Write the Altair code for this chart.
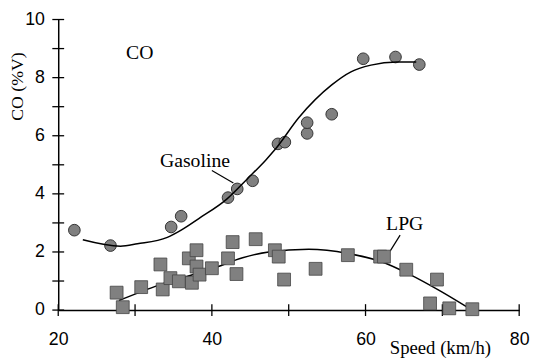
import altair as alt
import pandas as pd

# ---- data ----
gas_speed = [22.1, 26.8, 34.7, 36.0, 42.1, 43.3, 45.3, 48.6, 49.5, 52.4, 52.4, 55.6, 59.7, 63.9, 67.0]
gas_co = [2.75, 2.22, 2.86, 3.23, 3.87, 4.17, 4.45, 5.72, 5.78, 6.08, 6.45, 6.74, 8.65, 8.71, 8.45]

lpg_speed = [27.6, 28.4, 30.8, 33.3, 33.6, 34.6, 35.7, 37.0, 37.4, 38.0, 38.0, 38.4, 40.0,
             42.1, 42.7, 43.2, 45.7, 48.2, 48.7, 49.4, 53.5, 57.7, 61.9, 62.4, 65.3, 69.3,
             68.4, 70.9, 73.9]
lpg_co = [0.60, 0.10, 0.79, 1.57, 0.71, 1.10, 0.99, 1.78, 0.94, 2.06, 1.50, 1.22, 1.44,
          1.78, 2.34, 1.24, 2.44, 2.06, 1.84, 1.05, 1.42, 1.89, 1.84, 1.84, 1.39, 1.05,
          0.23, 0.06, 0.03]

gas_fit_speed = [23.2, 28.1, 30.3, 34.2, 36.0, 38.3, 41.9, 44.7, 47.0, 48.3, 51.3, 55.6, 58.1, 60.7, 64.1, 66.6]
gas_fit_co = [2.42, 2.20, 2.28, 2.50, 2.75, 3.15, 3.81, 4.54, 5.16, 5.55, 6.62, 7.75, 8.20, 8.43, 8.54, 8.54]

lpg_fit_speed = [27.9, 33.1, 40.2, 44.0, 47.4, 52.6, 57.7, 62.0, 65.8, 69.7, 73.3]
lpg_fit_co = [0.33, 0.86, 1.44, 1.80, 2.00, 2.09, 1.95, 1.67, 1.22, 0.66, 0.09]

x_major = [20, 40, 60, 80]
x_minor = [30, 50, 70]
y_major = [0, 2, 4, 6, 8, 10]
y_minor = [1, 3, 5, 7, 9]

x_title = "Speed (km/h)"
y_title = "CO (%V)"

note_text = ["CO", "Gasoline", "LPG"]
note_x = [30.6, 37.8, 65.1]
note_y = [8.86, 5.12, 2.96]

leader_x = [40.0, 64.5]
leader_y = [4.80, 2.58]
leader_x2 = [42.8, 63.2]
leader_y2 = [4.37, 2.03]

# ---- chart ----
W, H = 468, 295
SERIF = "Liberation Serif"
SANS = "Liberation Sans"

xs = alt.Scale(domain=[20, 80], nice=False, zero=False)
ys = alt.Scale(domain=[0, 10], nice=False, zero=False)

x_axis = alt.Axis(values=x_major, tickSize=0, ticks=False, labelPadding=21, grid=False, title=None)
y_axis = alt.Axis(values=y_major, tickSize=0, ticks=False, labelPadding=14, grid=False, title=None)


def X(f):
    return alt.X(f, scale=xs, axis=x_axis)


def Y(f):
    return alt.Y(f, scale=ys, axis=y_axis)


gas_df = pd.DataFrame({"speed": gas_speed, "co": gas_co})
lpg_df = pd.DataFrame({"speed": lpg_speed, "co": lpg_co})
gas_fit_df = pd.DataFrame({"speed": gas_fit_speed, "co": gas_fit_co})
lpg_fit_df = pd.DataFrame({"speed": lpg_fit_speed, "co": lpg_fit_co})

gas_pts = alt.Chart(gas_df).mark_point(
    shape="circle", filled=True, size=140, fill="#808080", stroke="#333333", strokeWidth=1, opacity=1
).encode(x=X("speed:Q"), y=Y("co:Q"))

lpg_pts = alt.Chart(lpg_df).mark_point(
    shape="square", filled=True, size=170, fill="#808080", stroke="#444444", strokeWidth=0.8, opacity=1
).encode(x=X("speed:Q"), y=Y("co:Q"))

gas_line = alt.Chart(gas_fit_df).mark_line(color="black", strokeWidth=1.5, interpolate="monotone").encode(
    x=X("speed:Q"), y=Y("co:Q"))
lpg_line = alt.Chart(lpg_fit_df).mark_line(color="black", strokeWidth=1.5, interpolate="monotone").encode(
    x=X("speed:Q"), y=Y("co:Q"))

xt_df = pd.DataFrame({"speed": x_major + x_minor})
yt_df = pd.DataFrame({"co": y_major + y_minor})
x_ticks = alt.Chart(xt_df).mark_rule(color="black", strokeWidth=1.3).encode(
    x=X("speed:Q"), y=alt.value(H - 6), y2=alt.value(H + 6))
y_ticks = alt.Chart(yt_df).mark_rule(color="black", strokeWidth=1.3).encode(
    y=Y("co:Q"), x=alt.value(-6), x2=alt.value(6))

notes_df = pd.DataFrame({"t": note_text, "speed": note_x, "co": note_y})
notes = alt.Chart(notes_df).mark_text(
    font=SERIF, fontSize=20, color="black", align="center", baseline="middle"
).encode(x=X("speed:Q"), y=Y("co:Q"), text="t:N")

lead_df = pd.DataFrame({"speed": leader_x, "co": leader_y, "x2": leader_x2, "y2": leader_y2})
leaders = alt.Chart(lead_df).mark_rule(color="black", strokeWidth=1.2).encode(
    x=X("speed:Q"), y=Y("co:Q"), x2="x2:Q", y2="y2:Q")

xtitle = alt.Chart(pd.DataFrame({"t": [x_title]})).mark_text(
    font=SERIF, fontSize=19, color="black", align="center", baseline="middle"
).encode(text="t:N", x=alt.value(388), y=alt.value(H + 39))

ytitle = alt.Chart(pd.DataFrame({"t": [y_title]})).mark_text(
    font=SERIF, fontSize=18, color="black", align="center", baseline="middle", angle=270
).encode(text="t:N", x=alt.value(-41), y=alt.value(68))

chart = alt.layer(
    gas_pts, gas_line, lpg_line, x_ticks, y_ticks, leaders, lpg_pts, notes, xtitle, ytitle
).properties(
    width=W, height=H,
    autosize=alt.AutoSizeParams(type="none"),
    padding={"left": 51, "top": 9, "right": 12, "bottom": 49},
    background="white",
).configure_view(stroke=None).configure_axis(
    domainColor="black", domainWidth=1.5,
    labelFont=SANS, labelFontSize=18, labelColor="black", labelFlush=False,
)

chart.save("out.html", embed_options={"renderer": "svg", "actions": False})
